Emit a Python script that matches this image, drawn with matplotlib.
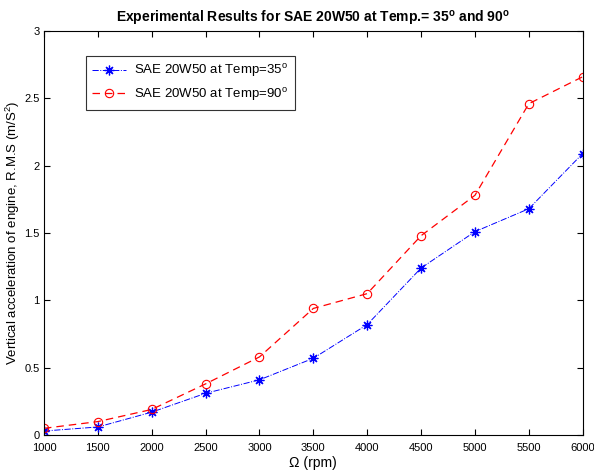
import matplotlib.pyplot as plt
import numpy as np

plt.rcParams['font.family'] = ['Liberation Sans', 'DejaVu Sans']
plt.rcParams['mathtext.default'] = 'regular'

# data
rpm = [1000, 1500, 2000, 2500, 3000, 3500, 4000, 4500, 5000, 5500, 6000]
acc_35 = [0.03, 0.06, 0.17, 0.31, 0.41, 0.57, 0.82, 1.24, 1.51, 1.68, 2.09]
acc_90 = [0.05, 0.10, 0.19, 0.38, 0.58, 0.94, 1.05, 1.48, 1.78, 2.46, 2.66]
label_35 = 'SAE 20W50 at Temp=35$^o$'
label_90 = 'SAE 20W50 at Temp=90$^o$'

fig = plt.figure(figsize=(5.94, 4.76), dpi=100)
ax = fig.add_axes([0.074, 0.086, 0.907, 0.849])

ax.plot(rpm, acc_35, color='blue', linestyle='-.', linewidth=0.7,
        marker=(8, 2, 0), markersize=7, markeredgewidth=0.9, label=label_35)
ax.plot(rpm, acc_90, color='red', linestyle='--', dashes=(6, 4), linewidth=0.9,
        marker='o', markersize=6, markerfacecolor='none', markeredgewidth=0.8,
        label=label_90)

ax.set_xlim(1000, 6000)
ax.set_ylim(0, 3)
ax.set_xticks(np.arange(1000, 6001, 500))
ax.set_yticks([0, 0.5, 1, 1.5, 2, 2.5, 3])
ax.set_yticklabels(['0', '0.5', '1', '1.5', '2', '2.5', '3'])
ax.tick_params(direction='in', labelsize=8, length=4, top=True, right=True,
               labeltop=False, labelright=False)
ax.tick_params(axis='x', pad=6)
ax.tick_params(axis='y', pad=3)

ax.set_title('Experimental Results for SAE 20W50 at Temp.= 35$^o$ and 90$^o$',
             fontsize=10, fontweight='bold', pad=6)
ax.set_xlabel('Ω (rpm)', fontsize=10, labelpad=2)
ax.set_ylabel('Vertical acceleration of engine, R.M.S (m/S$^2$)', fontsize=9.5, labelpad=2)

leg = ax.legend(loc='upper left', bbox_to_anchor=(0.065, 0.955), fontsize=9.5,
                fancybox=False, edgecolor='#333333', framealpha=1,
                handlelength=2.6, handletextpad=0.6, borderpad=0.5,
                labelspacing=0.5)
leg.get_frame().set_linewidth(0.8)

plt.savefig('out.png', dpi=100)
plt.close()
